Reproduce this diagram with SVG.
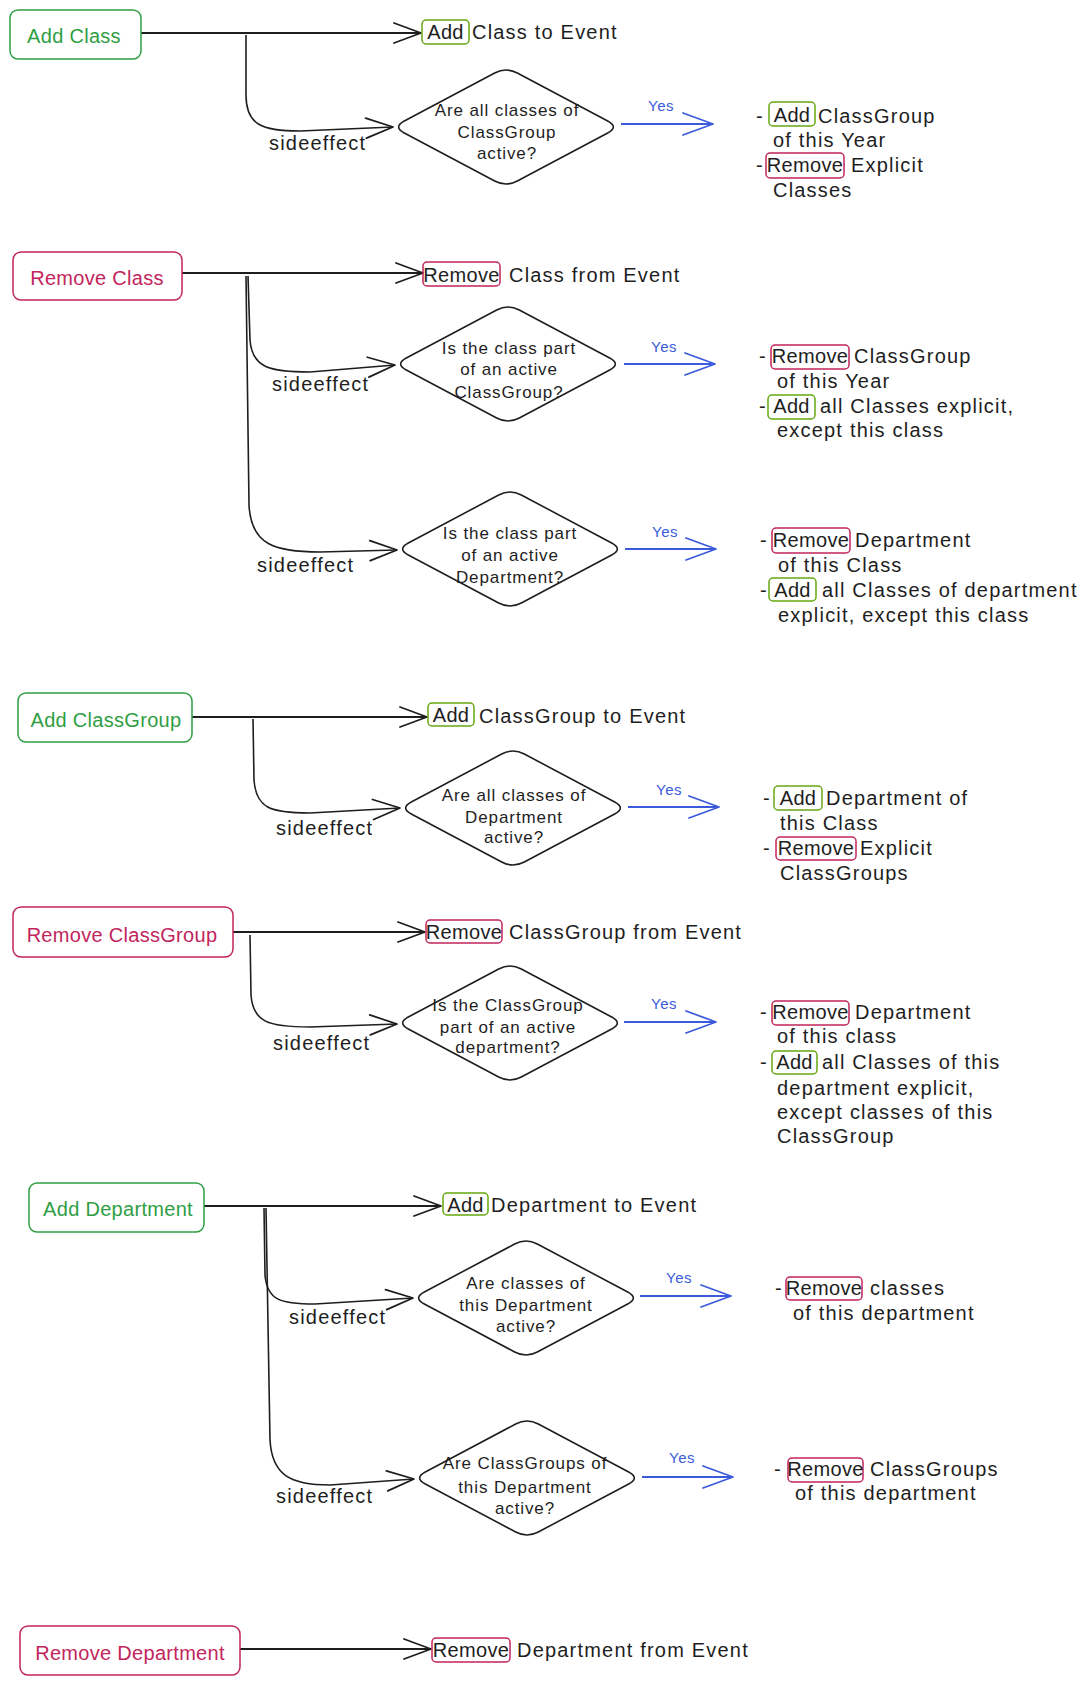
<svg xmlns="http://www.w3.org/2000/svg" width="1090" height="1685" viewBox="0 0 1090 1685">
<style>
text{font-family:"Liberation Sans",Arial,sans-serif;}
.t{font-size:20px;letter-spacing:1.2px;fill:#1e1e1e;}
.bt{font-size:20px;letter-spacing:0.3px;fill:#1e1e1e;text-anchor:middle;}
.n{font-size:20px;letter-spacing:0.3px;text-anchor:middle;}
.g{fill:#2f9e44;}
.r{fill:#c2255c;}
.d{font-size:17px;letter-spacing:0.9px;fill:#1e1e1e;text-anchor:middle;}
.y{font-size:15px;letter-spacing:0.5px;fill:#3b5bdb;}
.ng{fill:#fff;stroke:#2f9e44;stroke-width:1.5;}
.nr{fill:#fff;stroke:#c2255c;stroke-width:1.5;}
.ba{fill:none;stroke:#66a80f;stroke-width:1.5;}
.br{fill:none;stroke:#c2255c;stroke-width:1.5;}
.dia{fill:#fff;stroke:#1e1e1e;stroke-width:1.6;}
.c{fill:none;stroke:#1e1e1e;stroke-width:2;marker-end:url(#arr);}
.s{fill:none;stroke:#1e1e1e;stroke-width:1.6;marker-end:url(#arr);}
.yl{fill:none;stroke:#3b5bdb;stroke-width:2;marker-end:url(#arrb);}
</style>
<defs>
<marker id="arr" viewBox="0 0 30 24" refX="29" refY="12" markerWidth="30" markerHeight="24" markerUnits="userSpaceOnUse" orient="auto"><path d="M2,2 L29,12 L2,22" fill="none" stroke="#1e1e1e" stroke-width="1.8" stroke-linecap="round" stroke-linejoin="round"/></marker>
<marker id="arrb" viewBox="0 0 32 26" refX="31" refY="13" markerWidth="32" markerHeight="26" markerUnits="userSpaceOnUse" orient="auto"><path d="M1,2 L31,13 L1,24" fill="none" stroke="#3b5bdb" stroke-width="1.8" stroke-linecap="round" stroke-linejoin="round"/></marker>
<path id="dia" d="M-101.7,6 Q-113,0 -101.7,-6 L-11.3,-54 Q0,-60 11.3,-54 L101.7,-6 Q113,0 101.7,6 L11.3,54 Q0,60 -11.3,54 Z"/>
</defs>

<g id="connectors">
<path class="c" d="M141,33 L421,33"/>
<path class="s" d="M246,35 L246,95 C246,125 262,131 300,131 L393,127"/>
<path class="yl" d="M621,124 L713,124"/>
<text class="y" x="648" y="111">Yes</text>
<text class="t" x="269" y="150">sideeffect</text>

<path class="c" d="M182,273 L423,273"/>
<path class="s" d="M248,276 L250,340 C252,368 270,372 310,372 L395,365"/>
<path class="s" d="M246,276 L249,505 C251,545 275,552 320,552 L397,550"/>
<path class="yl" d="M624,364 L715,364"/>
<text class="y" x="651" y="352">Yes</text>
<text class="t" x="272" y="391">sideeffect</text>
<path class="yl" d="M625,549 L716,549"/>
<text class="y" x="652" y="537">Yes</text>
<text class="t" x="257" y="572">sideeffect</text>

<path class="c" d="M192,717 L427,717"/>
<path class="s" d="M253,719 L254,780 C256,808 270,813 310,813 L400,808"/>
<path class="yl" d="M628,807 L719,807"/>
<text class="y" x="656" y="795">Yes</text>
<text class="t" x="276" y="835">sideeffect</text>

<path class="c" d="M233,932 L425,932"/>
<path class="s" d="M250,935 L251,995 C253,1022 268,1027 310,1027 L397,1024"/>
<path class="yl" d="M624,1022 L716,1022"/>
<text class="y" x="651" y="1009">Yes</text>
<text class="t" x="273" y="1050">sideeffect</text>

<path class="c" d="M204,1206 L441,1206"/>
<path class="s" d="M264,1208 L265,1275 C267,1300 280,1304 315,1304 L413,1298"/>
<path class="s" d="M266,1208 L270,1440 C272,1475 290,1485 330,1485 L414,1479"/>
<path class="yl" d="M640,1296 L731,1296"/>
<text class="y" x="666" y="1283">Yes</text>
<text class="t" x="289" y="1324">sideeffect</text>
<path class="yl" d="M642,1477 L733,1477"/>
<text class="y" x="669" y="1463">Yes</text>
<text class="t" x="276" y="1503">sideeffect</text>

<path class="c" d="M240,1649 L431,1649"/>
</g>

<!-- Section 1 -->
<g id="add-class">
<rect class="ng" x="10" y="10" width="131" height="49" rx="8"/>
<text class="n g" x="74" y="43">Add Class</text>
</g>
<g id="add-class-to-event">
<rect class="ba" x="422" y="20" width="47" height="24" rx="4"/>
<text class="bt" x="445.5" y="39">Add</text>
<text class="t" x="472" y="39">Class to Event</text>
</g>
<g id="q-classgroup-active">
<use href="#dia" class="dia" x="506" y="127"/>
<text class="d" x="507" y="116">Are all classes of</text>
<text class="d" x="507" y="138">ClassGroup</text>
<text class="d" x="507" y="159">active?</text>
</g>
<g id="result-add-class">
<text class="t" x="756" y="123">-</text>
<rect class="ba" x="769" y="102" width="46" height="24" rx="4"/>
<text class="bt" x="792" y="122">Add</text>
<text class="t" x="818" y="123">ClassGroup</text>
<text class="t" x="773" y="147">of this Year</text>
<text class="t" x="756" y="172">-</text>
<rect class="br" x="766" y="153" width="78" height="25" rx="4"/>
<text class="bt" x="805" y="172">Remove</text>
<text class="t" x="851" y="172">Explicit</text>
<text class="t" x="773" y="197">Classes</text>
</g>

<!-- Section 2 -->
<g id="remove-class">
<rect class="nr" x="13" y="252" width="169" height="48" rx="8"/>
<text class="n r" x="97" y="285">Remove Class</text>
</g>
<g id="remove-class-from-event">
<rect class="br" x="423" y="262" width="77" height="24" rx="4"/>
<text class="bt" x="461.5" y="282">Remove</text>
<text class="t" x="509" y="282">Class from Event</text>
</g>
<g id="q-class-in-classgroup">
<use href="#dia" class="dia" x="508" y="364"/>
<text class="d" x="509" y="354">Is the class part</text>
<text class="d" x="509" y="375">of an active</text>
<text class="d" x="509" y="398">ClassGroup?</text>
</g>
<g id="result-remove-class-1">
<text class="t" x="759" y="363">-</text>
<rect class="br" x="771" y="345" width="78" height="24" rx="4"/>
<text class="bt" x="810" y="363">Remove</text>
<text class="t" x="854" y="363">ClassGroup</text>
<text class="t" x="777" y="388">of this Year</text>
<text class="t" x="759" y="413">-</text>
<rect class="ba" x="768" y="395" width="47" height="24" rx="4"/>
<text class="bt" x="791.5" y="413">Add</text>
<text class="t" x="820" y="413">all Classes explicit,</text>
<text class="t" x="777" y="437">except this class</text>
</g>
<g id="q-class-in-department">
<use href="#dia" class="dia" x="510" y="549"/>
<text class="d" x="510" y="539">Is the class part</text>
<text class="d" x="510" y="561">of an active</text>
<text class="d" x="510" y="583">Department?</text>
</g>
<g id="result-remove-class-2">
<text class="t" x="760" y="547">-</text>
<rect class="br" x="772" y="528" width="78" height="25" rx="4"/>
<text class="bt" x="811" y="547">Remove</text>
<text class="t" x="855" y="547">Department</text>
<text class="t" x="778" y="572">of this Class</text>
<text class="t" x="760" y="597">-</text>
<rect class="ba" x="769" y="578" width="47" height="23" rx="4"/>
<text class="bt" x="792.5" y="597">Add</text>
<text class="t" x="822" y="597">all Classes of department</text>
<text class="t" x="778" y="622">explicit, except this class</text>
</g>

<!-- Section 3 -->
<g id="add-classgroup">
<rect class="ng" x="18" y="693" width="174" height="49" rx="8"/>
<text class="n g" x="106" y="727">Add ClassGroup</text>
</g>
<g id="add-classgroup-to-event">
<rect class="ba" x="428" y="703" width="46" height="23" rx="4"/>
<text class="bt" x="451" y="722">Add</text>
<text class="t" x="479" y="723">ClassGroup to Event</text>
</g>
<g id="q-department-active">
<use href="#dia" class="dia" x="513" y="808"/>
<text class="d" x="514" y="801">Are all classes of</text>
<text class="d" x="514" y="823">Department</text>
<text class="d" x="514" y="843">active?</text>
</g>
<g id="result-add-classgroup">
<text class="t" x="763" y="805">-</text>
<rect class="ba" x="774" y="786" width="48" height="24" rx="4"/>
<text class="bt" x="798" y="805">Add</text>
<text class="t" x="826" y="805">Department of</text>
<text class="t" x="780" y="830">this Class</text>
<text class="t" x="763" y="855">-</text>
<rect class="br" x="776" y="837" width="80" height="23" rx="4"/>
<text class="bt" x="816" y="855">Remove</text>
<text class="t" x="860" y="855">Explicit</text>
<text class="t" x="780" y="880">ClassGroups</text>
</g>

<!-- Section 4 -->
<g id="remove-classgroup">
<rect class="nr" x="13" y="907" width="220" height="50" rx="8"/>
<text class="n r" x="122" y="942">Remove ClassGroup</text>
</g>
<g id="remove-classgroup-from-event">
<rect class="br" x="426" y="920" width="76" height="23" rx="4"/>
<text class="bt" x="464" y="939">Remove</text>
<text class="t" x="509" y="939">ClassGroup from Event</text>
</g>
<g id="q-classgroup-in-department">
<use href="#dia" class="dia" x="510" y="1023"/>
<text class="d" x="508" y="1011">Is the ClassGroup</text>
<text class="d" x="508" y="1033">part of an active</text>
<text class="d" x="508" y="1053">department?</text>
</g>
<g id="result-remove-classgroup">
<text class="t" x="760" y="1019">-</text>
<rect class="br" x="772" y="1001" width="77" height="24" rx="4"/>
<text class="bt" x="810.5" y="1019">Remove</text>
<text class="t" x="855" y="1019">Department</text>
<text class="t" x="777" y="1043">of this class</text>
<text class="t" x="760" y="1069">-</text>
<rect class="ba" x="772" y="1051" width="45" height="23" rx="4"/>
<text class="bt" x="794.5" y="1069">Add</text>
<text class="t" x="822" y="1069">all Classes of this</text>
<text class="t" x="777" y="1095">department explicit,</text>
<text class="t" x="777" y="1119">except classes of this</text>
<text class="t" x="777" y="1143">ClassGroup</text>
</g>

<!-- Section 5 -->
<g id="add-department">
<rect class="ng" x="29" y="1183" width="175" height="49" rx="8"/>
<text class="n g" x="118" y="1216">Add Department</text>
</g>
<g id="add-department-to-event">
<rect class="ba" x="443" y="1193" width="45" height="22" rx="4"/>
<text class="bt" x="465.5" y="1212">Add</text>
<text class="t" x="491" y="1212">Department to Event</text>
</g>
<g id="q-classes-of-department-active">
<use href="#dia" class="dia" x="526" y="1298"/>
<text class="d" x="526" y="1289">Are classes of</text>
<text class="d" x="526" y="1311">this Department</text>
<text class="d" x="526" y="1332">active?</text>
</g>
<g id="result-add-department-1">
<text class="t" x="775" y="1295">-</text>
<rect class="br" x="786" y="1277" width="76" height="23" rx="4"/>
<text class="bt" x="824" y="1295">Remove</text>
<text class="t" x="870" y="1295">classes</text>
<text class="t" x="793" y="1320">of this department</text>
</g>
<g id="q-classgroups-of-department-active">
<use href="#dia" class="dia" x="527" y="1478"/>
<text class="d" x="525" y="1469">Are ClassGroups of</text>
<text class="d" x="525" y="1493">this Department</text>
<text class="d" x="525" y="1514">active?</text>
</g>
<g id="result-add-department-2">
<text class="t" x="774" y="1476">-</text>
<rect class="br" x="788" y="1458" width="75" height="24" rx="4"/>
<text class="bt" x="825.5" y="1476">Remove</text>
<text class="t" x="870" y="1476">ClassGroups</text>
<text class="t" x="795" y="1500">of this department</text>
</g>

<!-- Section 6 -->
<g id="remove-department">
<rect class="nr" x="20" y="1626" width="220" height="49" rx="8"/>
<text class="n r" x="130" y="1660">Remove Department</text>
</g>
<g id="remove-department-from-event">
<rect class="br" x="432" y="1638" width="78" height="24" rx="4"/>
<text class="bt" x="471" y="1657">Remove</text>
<text class="t" x="517" y="1657">Department from Event</text>
</g>
</svg>
